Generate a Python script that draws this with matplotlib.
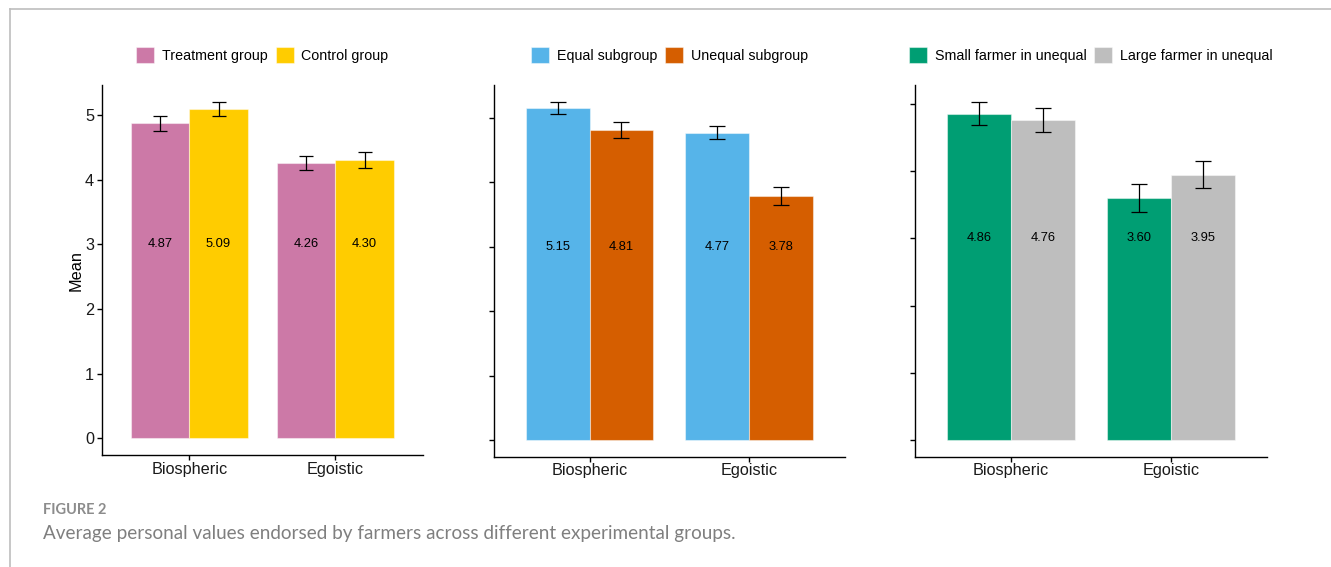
import matplotlib
matplotlib.use("Agg")
import matplotlib.pyplot as plt
import numpy as np
from matplotlib.lines import Line2D
from matplotlib.patches import Patch

plt.rcParams["font.family"] = ["Liberation Sans", "DejaVu Sans"]

categories = ["Biospheric", "Egoistic"]

# Panel A: treatment vs control
series_a = ["Treatment group", "Control group"]
means_a = [[4.87, 4.26], [5.09, 4.30]]
err_a = [[0.115, 0.11], [0.11, 0.12]]
colors_a = ["#CC79A7", "#FFCC00"]

# Panel B: equal vs unequal subgroup
series_b = ["Equal subgroup", "Unequal subgroup"]
means_b = [[5.15, 4.77], [4.81, 3.78]]
err_b = [[0.095, 0.10], [0.125, 0.14]]
colors_b = ["#56B4E9", "#D55E00"]

# Panel C: small vs large farmers in the unequal condition
series_c = ["Small farmer in unequal", "Large farmer in unequal"]
means_c = [[4.86, 3.60], [4.76, 3.95]]
err_c = [[0.175, 0.21], [0.18, 0.205]]
colors_c = ["#009E73", "#BEBEBE"]

W, H = 1331, 567
fig = plt.figure(figsize=(W / 100, H / 100), dpi=100)


def px_rect(x0, y_top, x1, y_bot):
    return [x0 / W, 1 - y_bot / H, (x1 - x0) / W, (y_bot - y_top) / H]


panels = [
    (px_rect(101.7, 85, 423.0, 455.3), series_a, means_a, err_a, colors_a, True, 5.26),
    (px_rect(494.0, 85, 844.5, 457.0), series_b, means_b, err_b, colors_b, False, 5.9),
    (px_rect(915.0, 85, 1266.7, 456.7), series_c, means_c, err_c, colors_c, False, 5.8),
]

bar_w = 0.4
x = np.arange(1, len(categories) + 1)

for rect, names, means, errs, cols, show_y, cap in panels:
    ax = fig.add_axes(rect)
    top = 0.0
    for i, (name, m, e, c) in enumerate(zip(names, means, errs, cols)):
        xpos = x + (i - 0.5) * bar_w
        ax.bar(xpos, m, width=bar_w, color=c, edgecolor=(1, 1, 1, 0.45),
               linewidth=0.8, label=name, zorder=2)
        ax.errorbar(xpos, m, yerr=e, fmt="none", ecolor="black",
                    elinewidth=0.9, capsize=cap, capthick=0.9, zorder=3)
        for xx, v in zip(xpos, m):
            ax.text(xx, 3.0, f"{v:.2f}", ha="center", va="center",
                    fontsize=9.3, color="black", zorder=4)
        top = max(top, max(np.array(m) + np.array(e)))
    pad = 0.05 * top
    ax.set_ylim(-pad, top + pad)
    ax.set_xlim(0.4, 2.6)
    ax.set_xticks(x)
    ax.set_xticklabels(categories, fontsize=11.7, color="#1a1a1a")
    ax.set_yticks([0, 1, 2, 3, 4, 5])
    if show_y:
        ax.set_yticklabels(["0", "1", "2", "3", "4", "5"], fontsize=11.7,
                           color="#1a1a1a")
        ax.set_ylabel("Mean", fontsize=11.7, labelpad=1.0)
    else:
        ax.set_yticklabels([])
    for s in ["top", "right"]:
        ax.spines[s].set_visible(False)
    for s in ["left", "bottom"]:
        ax.spines[s].set_linewidth(1.0)
        ax.spines[s].set_color("black")
    ax.tick_params(axis="both", length=3.5, width=1.0, color="black")
    ax.tick_params(axis="x", pad=1.0)
    ax.tick_params(axis="y", pad=2.0)
    handles = [Patch(facecolor=c, edgecolor=(1, 1, 1, 0.45), linewidth=0.8)
               for c in cols]
    fig_y = 1 - 55 / H
    ax_y = (fig_y - rect[1]) / rect[3]
    ax.legend(handles, names, loc="center", bbox_to_anchor=(0.5, ax_y),
              ncol=2, frameon=False, fontsize=10.3, handlelength=1.26,
              handleheight=1.26, handletextpad=0.55, columnspacing=0.55,
              borderaxespad=0, borderpad=0)

# Caption
fig.text(43 / W, 1 - 510.5 / H, "FIGURE 2", family=["Lato", "DejaVu Sans"],
         fontsize=10.5, fontweight="bold", color="#8c8c8c", va="center", ha="left")
fig.text(43 / W, 1 - 533 / H,
         "Average personal values endorsed by farmers across different experimental groups.",
         family=["Lato", "DejaVu Sans"], fontsize=13.55, color="#7f7f7f",
         va="center", ha="left")

# Page frame lines
fig.add_artist(Line2D([9.5 / W, 1.0], [1 - 9 / H, 1 - 9 / H], color="#bdbdbd",
                      linewidth=1.2, transform=fig.transFigure))
fig.add_artist(Line2D([9.5 / W, 9.5 / W], [0.0, 1 - 9 / H], color="#bdbdbd",
                      linewidth=1.2, transform=fig.transFigure))

fig.savefig("out.png", dpi=100)
